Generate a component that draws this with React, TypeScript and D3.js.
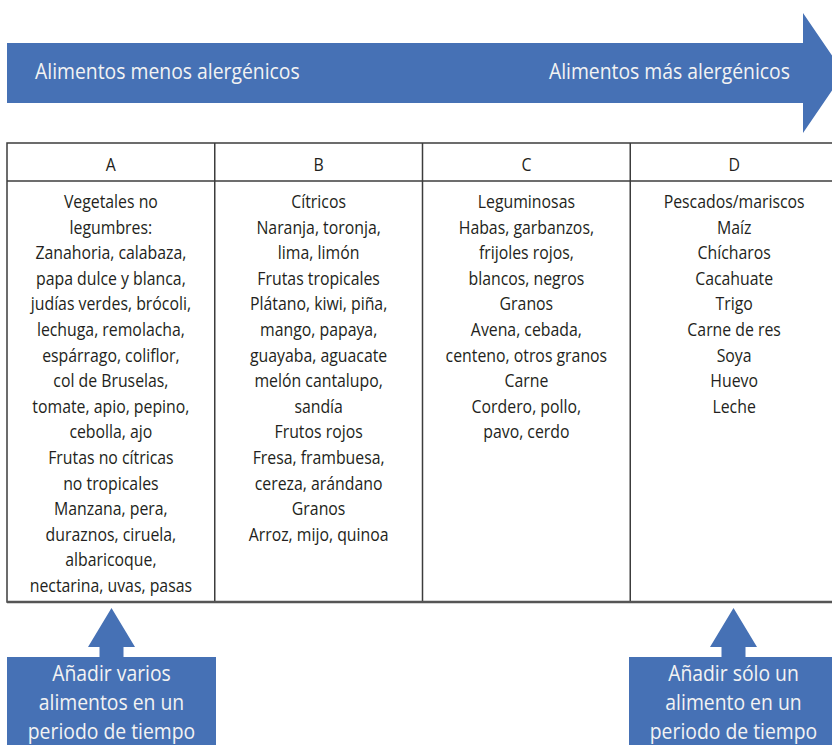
import { useEffect, useRef } from "react";
import * as d3 from "d3";

const columnLabels = ["A", "B", "C", "D"];

const colA = [
  "Vegetales no",
  "legumbres:",
  "Zanahoria, calabaza,",
  "papa dulce y blanca,",
  "judías verdes, brócoli,",
  "lechuga, remolacha,",
  "espárrago, coliflor,",
  "col de Bruselas,",
  "tomate, apio, pepino,",
  "cebolla, ajo",
  "Frutas no cítricas",
  "no tropicales",
  "Manzana, pera,",
  "duraznos, ciruela,",
  "albaricoque,",
  "nectarina, uvas, pasas",
];

const colB = [
  "Cítricos",
  "Naranja, toronja,",
  "lima, limón",
  "Frutas tropicales",
  "Plátano, kiwi, piña,",
  "mango, papaya,",
  "guayaba, aguacate",
  "melón cantalupo,",
  "sandía",
  "Frutos rojos",
  "Fresa, frambuesa,",
  "cereza, arándano",
  "Granos",
  "Arroz, mijo, quinoa",
];

const colC = [
  "Leguminosas",
  "Habas, garbanzos,",
  "frijoles rojos,",
  "blancos, negros",
  "Granos",
  "Avena, cebada,",
  "centeno, otros granos",
  "Carne",
  "Cordero, pollo,",
  "pavo, cerdo",
];

const colD = [
  "Pescados/mariscos",
  "Maíz",
  "Chícharos",
  "Cacahuate",
  "Trigo",
  "Carne de res",
  "Soya",
  "Huevo",
  "Leche",
];

const arrowLabels = ["Alimentos menos alergénicos", "Alimentos más alergénicos"];
const noteLeft = ["Añadir varios", "alimentos en un", "periodo de tiempo"];
const noteRight = ["Añadir sólo un", "alimento en un", "periodo de tiempo"];

export default function App() {
  const ref = useRef<SVGSVGElement | null>(null);

  useEffect(() => {
    if (!ref.current) return;
    const width = 832;
    const height = 745;
    const blue = "#4671b5";
    const ink = "#231f20";
    const light = "#f3f3f3";
    const font = "'Open Sans', sans-serif";
    const squeeze = 0.88;

    const svg = d3.select(ref.current);
    svg.selectAll("*").remove();
    svg.attr("viewBox", `0 0 ${width} ${height}`);

    // condensed text helper (the original face is narrower than Open Sans)
    const label = (
      g: d3.Selection<any, unknown, null, undefined>,
      x: number,
      y: number,
      txt: string,
      size: number,
      fill: string,
      anchor = "middle"
    ) =>
      g
        .append("text")
        .attr("transform", `translate(${x},${y}) scale(${squeeze},1)`)
        .attr("text-anchor", anchor)
        .attr("font-family", font)
        .attr("font-size", size)
        .attr("fill", fill)
        .text(txt);

    // top arrow
    const shaft = { x0: 7, x1: 803, y0: 43, y1: 103 };
    const head = { y0: 13, y1: 133, tip: 844 };
    const mid = (shaft.y0 + shaft.y1) / 2;
    svg
      .append("path")
      .attr(
        "d",
        d3.line()([
          [shaft.x0, shaft.y0],
          [shaft.x1, shaft.y0],
          [shaft.x1, head.y0],
          [head.tip, mid],
          [shaft.x1, head.y1],
          [shaft.x1, shaft.y1],
          [shaft.x0, shaft.y1],
        ]) + "Z"
      )
      .attr("fill", blue);
    label(svg, 35, 79, arrowLabels[0], 22, light, "start");
    label(svg, 790, 79, arrowLabels[1], 22, light, "end");

    // table
    const x = d3.scaleBand<string>().domain(columnLabels).range([7, 838]).paddingInner(0);
    const top = 143;
    const headerBottom = 181;
    const bottom = 602;
    const row = d3.scaleLinear().domain([0, 1]).range([208, 233.6]);
    const stroke = "#3c3c3c";

    const grid = svg.append("g").attr("fill", "none").attr("stroke", stroke).attr("stroke-width", 1.5);
    grid.append("rect").attr("x", 7).attr("y", top).attr("width", 831).attr("height", bottom - top);
    grid.append("line").attr("x1", 7).attr("x2", 838).attr("y1", headerBottom).attr("y2", headerBottom);
    columnLabels.slice(1).forEach((c) => {
      grid
        .append("line")
        .attr("x1", x(c)!)
        .attr("x2", x(c)!)
        .attr("y1", top)
        .attr("y2", bottom);
    });
    grid
      .append("line")
      .attr("x1", 7)
      .attr("x2", 838)
      .attr("y1", bottom)
      .attr("y2", bottom)
      .attr("stroke", "#555")
      .attr("stroke-width", 2.5);

    const columns = [colA, colB, colC, colD];
    columnLabels.forEach((c, i) => {
      const cx = x(c)! + x.bandwidth() / 2;
      label(svg, cx, 171, c, 18, ink);
      columns[i].forEach((line, j) => label(svg, cx, row(j), line, 18, ink));
    });

    // bottom notes with up arrows
    const note = (cx: number, x0: number, x1: number, lines: string[]) => {
      const tipY = 608;
      const baseY = 647;
      const boxY = 657;
      const hw = 23.5;
      const sw = 12;
      svg
        .append("path")
        .attr(
          "d",
          d3.line()([
            [cx, tipY],
            [cx + hw, baseY],
            [cx + sw, baseY],
            [cx + sw, boxY + 1],
            [cx - sw, boxY + 1],
            [cx - sw, baseY],
            [cx - hw, baseY],
          ]) + "Z"
        )
        .attr("fill", blue);
      svg
        .append("rect")
        .attr("x", x0)
        .attr("y", boxY)
        .attr("width", x1 - x0)
        .attr("height", height - boxY + 5)
        .attr("fill", blue);
      const ly = d3.scaleLinear().domain([0, 1]).range([681, 710]);
      lines.forEach((t, i) => label(svg, cx, ly(i), t, 22, light));
    };
    note(111.5, 7, 216, noteLeft);
    note(733.5, 629, 838, noteRight);
  }, []);

  return (
    <svg
      ref={ref}
      width={832}
      height={745}
      style={{ position: "absolute", left: 0, top: 0, display: "block", background: "#fff" }}
    />
  );
}
